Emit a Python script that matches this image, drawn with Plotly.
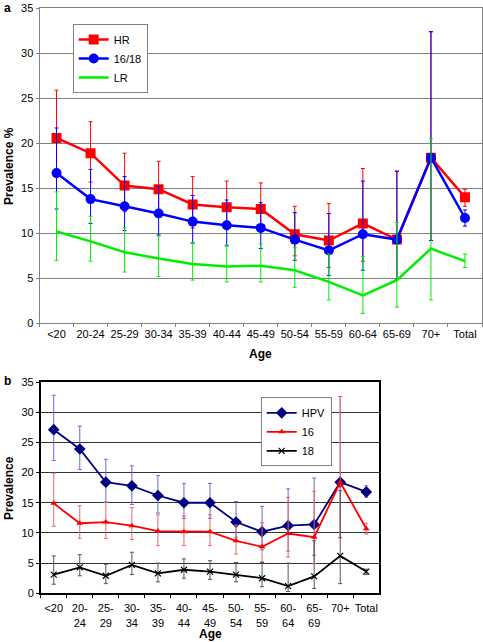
import plotly.graph_objects as go

W, H = 483, 642

# ---------------- Panel a data ----------------
ages = ["<20", "20-24", "25-29", "30-34", "35-39", "40-44", "45-49",
        "50-54", "55-59", "60-64", "65-69", "70+", "Total"]

hr_val = [20.6, 18.9, 15.3, 14.9, 13.2, 12.9, 12.7, 9.9, 9.2, 11.1, 9.3, 18.4, 14.0]
hr_hi = [25.9, 22.4, 18.9, 18.0, 16.3, 15.8, 15.6, 13.0, 13.3, 17.2, 16.9, 32.4, 14.9]
hr_lo = [16.2, 15.7, 12.4, 12.1, 10.6, 10.4, 10.2, 7.5, 6.2, 6.9, 4.9, 9.2, 13.0]

t1618_val = [16.7, 13.8, 13.0, 12.2, 11.3, 10.9, 10.6, 9.3, 8.1, 9.9, 9.3, 18.4, 11.7]
t1618_hi = [21.7, 17.1, 16.3, 15.2, 14.2, 13.7, 13.4, 12.3, 12.2, 15.8, 16.9, 32.4, 12.6]
t1618_lo = [12.7, 11.1, 10.3, 9.8, 8.9, 8.6, 8.3, 7.0, 5.3, 5.9, 4.9, 9.2, 10.8]

lr_val = [10.2, 9.1, 7.9, 7.2, 6.6, 6.3, 6.4, 5.9, 4.6, 3.1, 4.8, 8.3, 6.9]
lr_hi = [14.6, 11.9, 10.6, 9.7, 9.0, 8.7, 8.8, 8.4, 7.7, 7.4, 11.2, 20.5, 7.7]
lr_lo = [7.0, 6.9, 5.7, 5.2, 4.8, 4.6, 4.6, 4.0, 2.6, 1.1, 1.8, 2.6, 6.2]

# ---------------- Panel b data ----------------
age_labels_b = ["<20", "20-<br>24", "25-<br>29", "30-<br>34", "35-<br>39", "40-<br>44",
                "45-<br>49", "50-<br>54", "55-<br>59", "60-<br>64", "65-<br>69", "70+", "Total"]

hpv_val = [27.1, 23.9, 18.4, 17.8, 16.2, 15.0, 15.0, 11.8, 10.2, 11.2, 11.4, 18.4, 16.8]
hpv_hi = [32.8, 27.7, 22.2, 21.1, 19.5, 18.2, 18.2, 15.2, 14.4, 17.3, 19.1, 32.6, 17.8]
hpv_lo = [22.0, 20.5, 15.1, 14.7, 13.3, 12.4, 12.4, 9.3, 7.2, 7.0, 6.3, 9.2, 15.9]

h16_val = [14.9, 11.6, 11.8, 11.2, 10.3, 10.2, 10.2, 8.7, 7.7, 9.9, 9.3, 18.4, 10.7]
h16_hi = [19.9, 14.5, 15.1, 14.2, 13.0, 12.8, 13.0, 11.3, 11.7, 15.9, 16.9, 32.6, 11.6]
h16_lo = [11.1, 9.1, 9.1, 8.9, 7.9, 7.9, 7.9, 6.5, 5.2, 6.0, 4.9, 9.2, 9.8]

h18_val = [3.1, 4.3, 2.9, 4.7, 3.3, 3.9, 3.6, 3.1, 2.5, 1.2, 2.8, 6.2, 3.6]
h18_hi = [6.2, 6.4, 4.8, 6.8, 5.0, 5.7, 5.4, 5.1, 5.1, 5.0, 8.7, 17.0, 4.0]
h18_lo = [1.5, 2.9, 1.6, 3.1, 1.9, 2.5, 2.3, 1.9, 1.1, 0.3, 0.8, 1.6, 3.1]

FONT = "Arial, Liberation Sans, sans-serif"


def err(val, hi, lo, color, width=2, thick=1):
    return dict(type="data", symmetric=False,
                array=[h - v for h, v in zip(hi, val)],
                arrayminus=[v - l for v, l in zip(val, lo)],
                color=color, thickness=thick, width=width)


fig = go.Figure()

# Panel a traces
fig.add_trace(go.Scatter(x=ages, y=hr_val, name="HR", mode="lines+markers",
                         line=dict(color="#FF0000", width=2.5),
                         marker=dict(symbol="square", size=10, color="#FF0000"),
                         error_y=err(hr_val, hr_hi, hr_lo, "#FF0000"),
                         xaxis="x", yaxis="y", legend="legend"))
fig.add_trace(go.Scatter(x=ages, y=t1618_val, name="16/18", mode="lines+markers",
                         line=dict(color="#0000FF", width=2.5),
                         marker=dict(symbol="circle", size=10, color="#0000FF"),
                         error_y=err(t1618_val, t1618_hi, t1618_lo, "#0000FF"),
                         xaxis="x", yaxis="y", legend="legend"))
fig.add_trace(go.Scatter(x=ages, y=lr_val, name="LR", mode="lines",
                         line=dict(color="#00EE00", width=2.5),
                         error_y=err(lr_val, lr_hi, lr_lo, "#00EE00"),
                         xaxis="x", yaxis="y", legend="legend"))

# Panel b traces
fig.add_trace(go.Scatter(x=ages, y=hpv_val, name="HPV", mode="lines+markers",
                         line=dict(color="#000080", width=1.8),
                         marker=dict(symbol="diamond", size=9, color="#000080"),
                         error_y=err(hpv_val, hpv_hi, hpv_lo, "#6A6AD0"),
                         xaxis="x2", yaxis="y2", legend="legend2"))
fig.add_trace(go.Scatter(x=ages, y=h16_val, name="16", mode="lines+markers",
                         line=dict(color="#FF0000", width=1.8),
                         marker=dict(symbol="triangle-up", size=6, color="#FF0000"),
                         error_y=err(h16_val, h16_hi, h16_lo, "#E86A6A"),
                         xaxis="x2", yaxis="y2", legend="legend2"))
fig.add_trace(go.Scatter(x=ages, y=h18_val, name="18", mode="lines+markers",
                         line=dict(color="#000000", width=1.8),
                         marker=dict(symbol="x-thin", size=6, color="#000000",
                                     line=dict(color="#000000", width=1.2)),
                         error_y=err(h18_val, h18_hi, h18_lo, "#555555"),
                         xaxis="x2", yaxis="y2", legend="legend2"))

# Geometry (pixels -> paper)
ax_l, ax_r, ax_t, ax_b = 39.5, 482, 8.3, 323.3
bx_l, bx_r, bx_t, bx_b = 40.7, 379.3, 382, 593.3

fig.update_layout(
    width=W, height=H,
    margin=dict(l=0, r=0, t=0, b=0),
    paper_bgcolor="white", plot_bgcolor="white",
    font=dict(family=FONT, size=11, color="#000000"),
    showlegend=True,
    xaxis=dict(domain=[ax_l / W, ax_r / W], anchor="y", type="category",
               categoryorder="array", categoryarray=ages,
               range=[-0.5, 12.5], tickson="boundaries", ticks="outside",
               ticklen=3, tickcolor="#808080", showline=True, linecolor="#808080",
               mirror=True, showgrid=False, tickangle=0, automargin=False,
               ticklabeloverflow="allow", tickfont=dict(size=11)),
    yaxis=dict(domain=[1 - ax_b / H, 1 - ax_t / H], anchor="x",
               range=[0, 35], dtick=5, ticks="outside", ticklen=3,
               tickcolor="#808080", showline=True, linecolor="#808080",
               mirror=True, showgrid=True, gridcolor="#808080", gridwidth=1,
               zeroline=False, automargin=False, tickfont=dict(size=11)),
    xaxis2=dict(domain=[bx_l / W, bx_r / W], anchor="y2", type="category",
                categoryorder="array", categoryarray=ages,
                tickmode="array", tickvals=ages, ticktext=age_labels_b,
                range=[-0.5, 12.5], tickson="boundaries", ticks="outside",
                ticklen=3, tickcolor="#000000", showline=True, linecolor="#000000",
                linewidth=1.5, mirror=True, showgrid=False, tickangle=0,
                automargin=False, ticklabelstandoff=4, tickfont=dict(size=11)),
    yaxis2=dict(domain=[1 - bx_b / H, 1 - bx_t / H], anchor="x2",
                range=[0, 35], dtick=5, ticks="outside", ticklen=3,
                tickcolor="#000000", showline=True, linecolor="#000000",
                linewidth=1.5, mirror=True, showgrid=True, gridcolor="#333333",
                gridwidth=1, zeroline=False, automargin=False,
                tickfont=dict(size=11)),
    legend=dict(x=72.7 / W, y=1 - 24 / H, xanchor="left", yanchor="top",
                bgcolor="white", bordercolor="#808080", borderwidth=1,
                font=dict(size=11), itemwidth=30, tracegroupgap=0),
    legend2=dict(x=260.7 / W, y=1 - 397.3 / H, xanchor="left", yanchor="top",
                 bgcolor="white", bordercolor="#808080", borderwidth=1,
                 font=dict(size=11), itemwidth=30, tracegroupgap=0),
    annotations=[
        dict(text="<b>a</b>", x=2 / W, y=1 - 8 / H, xref="paper", yref="paper",
             xanchor="left", yanchor="middle", showarrow=False, font=dict(size=12)),
        dict(text="<b>b</b>", x=2 / W, y=1 - 381 / H, xref="paper", yref="paper",
             xanchor="left", yanchor="middle", showarrow=False, font=dict(size=12)),
        dict(text="<b>Prevalence %</b>", x=9 / W, y=1 - 166 / H, xref="paper",
             yref="paper", textangle=-90, xanchor="center", yanchor="middle",
             showarrow=False, font=dict(size=12)),
        dict(text="<b>Age</b>", x=260 / W, y=1 - 354 / H, xref="paper", yref="paper",
             xanchor="center", yanchor="middle", showarrow=False, font=dict(size=12)),
        dict(text="<b>Prevalence</b>", x=9 / W, y=1 - 488 / H, xref="paper",
             yref="paper", textangle=-90, xanchor="center", yanchor="middle",
             showarrow=False, font=dict(size=12)),
        dict(text="<b>Age</b>", x=210 / W, y=1 - 634 / H, xref="paper", yref="paper",
             xanchor="center", yanchor="middle", showarrow=False, font=dict(size=12)),
    ],
)

# remove the default page margin so the figure sits at the window's top-left
fig.write_html("out.html", config={"displayModeBar": False},
               post_script="document.body.style.margin='0';document.body.style.overflow='hidden';")
